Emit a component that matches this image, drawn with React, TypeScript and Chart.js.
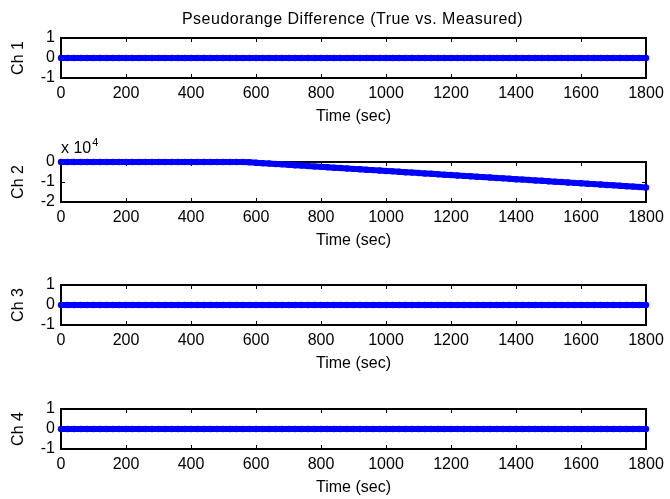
import React, { useEffect, useRef } from 'react';
import { Chart, registerables } from 'chart.js';

Chart.register(...registerables);

// ---------- data ----------
const TIME = [
  0, 20, 40, 60, 80, 100, 120, 140, 160, 180,
  200, 220, 240, 260, 280, 300, 320, 340, 360, 380,
  400, 420, 440, 460, 480, 500, 520, 540, 560, 580,
  600, 620, 640, 660, 680, 700, 720, 740, 760, 780,
  800, 820, 840, 860, 880, 900, 920, 940, 960, 980,
  1000, 1020, 1040, 1060, 1080, 1100, 1120, 1140, 1160, 1180,
  1200, 1220, 1240, 1260, 1280, 1300, 1320, 1340, 1360, 1380,
  1400, 1420, 1440, 1460, 1480, 1500, 1520, 1540, 1560, 1580,
  1600, 1620, 1640, 1660, 1680, 1700, 1720, 1740, 1760, 1780,
  1800,
];

const CH1 = [
  0, 0, 0, 0, 0, 0, 0, 0, 0, 0,
  0, 0, 0, 0, 0, 0, 0, 0, 0, 0,
  0, 0, 0, 0, 0, 0, 0, 0, 0, 0,
  0, 0, 0, 0, 0, 0, 0, 0, 0, 0,
  0, 0, 0, 0, 0, 0, 0, 0, 0, 0,
  0, 0, 0, 0, 0, 0, 0, 0, 0, 0,
  0, 0, 0, 0, 0, 0, 0, 0, 0, 0,
  0, 0, 0, 0, 0, 0, 0, 0, 0, 0,
  0, 0, 0, 0, 0, 0, 0, 0, 0, 0,
  0,
];

const CH2 = [
  0, 0, 0, 0, 0, 0, 0, 0, 0, 0,
  0, 0, 0, 0, 0, 0, 0, 0, 0, 0,
  0, 0, 0, 0, 0, 0, 0, 0, 0, -150,
  -360, -570, -770, -980, -1180, -1390, -1590, -1800, -2000, -2210,
  -2420, -2620, -2830, -3030, -3240, -3440, -3650, -3860, -4060, -4270,
  -4470, -4680, -4880, -5090, -5300, -5500, -5710, -5910, -6120, -6320,
  -6530, -6740, -6940, -7150, -7350, -7560, -7760, -7970, -8180, -8380,
  -8590, -8790, -9000, -9200, -9410, -9620, -9820, -10030, -10230, -10440,
  -10640, -10850, -11060, -11260, -11470, -11670, -11880, -12080, -12290, -12500,
  -12700,
];

const CH3 = [
  0, 0, 0, 0, 0, 0, 0, 0, 0, 0,
  0, 0, 0, 0, 0, 0, 0, 0, 0, 0,
  0, 0, 0, 0, 0, 0, 0, 0, 0, 0,
  0, 0, 0, 0, 0, 0, 0, 0, 0, 0,
  0, 0, 0, 0, 0, 0, 0, 0, 0, 0,
  0, 0, 0, 0, 0, 0, 0, 0, 0, 0,
  0, 0, 0, 0, 0, 0, 0, 0, 0, 0,
  0, 0, 0, 0, 0, 0, 0, 0, 0, 0,
  0, 0, 0, 0, 0, 0, 0, 0, 0, 0,
  0,
];

const CH4 = [
  0, 0, 0, 0, 0, 0, 0, 0, 0, 0,
  0, 0, 0, 0, 0, 0, 0, 0, 0, 0,
  0, 0, 0, 0, 0, 0, 0, 0, 0, 0,
  0, 0, 0, 0, 0, 0, 0, 0, 0, 0,
  0, 0, 0, 0, 0, 0, 0, 0, 0, 0,
  0, 0, 0, 0, 0, 0, 0, 0, 0, 0,
  0, 0, 0, 0, 0, 0, 0, 0, 0, 0,
  0, 0, 0, 0, 0, 0, 0, 0, 0, 0,
  0, 0, 0, 0, 0, 0, 0, 0, 0, 0,
  0,
];

const X_TICKS = [0, 200, 400, 600, 800, 1000, 1200, 1400, 1600, 1800];
const Y_TICKS_UNIT = [-1, 0, 1];
const Y_TICKS_CH2 = [-20000, -10000, 0];
const CHANNEL_LABELS = ['Ch 1', 'Ch 2', 'Ch 3', 'Ch 4'];
const TITLE = 'Pseudorange Difference (True vs. Measured)';
const X_LABEL = 'Time (sec)';
const CH2_EXPONENT = '4';

// ---------- styling ----------
const FONT = '"Liberation Sans", Arial, Helvetica, sans-serif';
const BLUE = '#0000ff';
const CANVAS_W = 670;
const CANVAS_H = 126;
const PLOT_TOPS = [0, 124, 247, 371];

type SubplotSpec = {
  label: string;
  values: number[];
  yTicks: number[];
  yScale: number; // divisor for tick labels
  title?: string;
  exponent?: string;
};

const SPECS: SubplotSpec[] = [
  { label: CHANNEL_LABELS[0], values: CH1, yTicks: Y_TICKS_UNIT, yScale: 1, title: TITLE },
  { label: CHANNEL_LABELS[1], values: CH2, yTicks: Y_TICKS_CH2, yScale: 10000, exponent: CH2_EXPONENT },
  { label: CHANNEL_LABELS[2], values: CH3, yTicks: Y_TICKS_UNIT, yScale: 1 },
  { label: CHANNEL_LABELS[3], values: CH4, yTicks: Y_TICKS_UNIT, yScale: 1 },
];

function makeFramePlugin(spec: SubplotSpec) {
  return {
    id: 'matlabFrame',
    beforeDatasetsDraw(chart: any) {
      const { ctx, chartArea } = chart;
      const { left, right, top, bottom } = chartArea;
      const xs = chart.scales.x;
      const ys = chart.scales.y;
      ctx.save();
      // inner ticks
      ctx.strokeStyle = '#000';
      ctx.lineWidth = 1;
      ctx.beginPath();
      const tl = 4;
      xs.ticks.forEach((t: any) => {
        const px = Math.round(xs.getPixelForValue(t.value)) + 0.5;
        ctx.moveTo(px, bottom);
        ctx.lineTo(px, bottom - tl);
        ctx.moveTo(px, top);
        ctx.lineTo(px, top + tl);
      });
      ys.ticks.forEach((t: any) => {
        const py = Math.round(ys.getPixelForValue(t.value)) + 0.5;
        ctx.moveTo(left, py);
        ctx.lineTo(left + tl, py);
        ctx.moveTo(right, py);
        ctx.lineTo(right - tl, py);
      });
      ctx.stroke();
      // box
      ctx.lineWidth = 2;
      ctx.strokeRect(left, top, right - left, bottom - top);
      ctx.restore();
    },
    afterDraw(chart: any) {
      const { ctx, chartArea } = chart;
      ctx.save();
      ctx.fillStyle = '#000';
      if (spec.title) {
        ctx.font = `16px ${FONT}`;
        ctx.textAlign = 'center';
        ctx.textBaseline = 'alphabetic';
        try { (ctx as any).letterSpacing = '0.5px'; } catch (e) {}
        ctx.fillText(spec.title, (chartArea.left + chartArea.right) / 2 - 1, 24);
        try { (ctx as any).letterSpacing = '0px'; } catch (e) {}
      }
      if (spec.exponent) {
        ctx.font = `16px ${FONT}`;
        ctx.textAlign = 'left';
        ctx.textBaseline = 'alphabetic';
        const base = 'x 10';
        const x0 = chartArea.left;
        const yb = chartArea.top - 9;
        ctx.fillText(base, x0, yb);
        const w = ctx.measureText(base).width;
        ctx.font = `11px ${FONT}`;
        ctx.fillText(spec.exponent, x0 + w + 1, yb - 7);
      }
      ctx.restore();
    },
  };
}

function Subplot({ spec, top }: { spec: SubplotSpec; top: number }) {
  const ref = useRef<HTMLCanvasElement | null>(null);
  useEffect(() => {
    if (!ref.current) return;
    const yt = spec.yTicks;
    const chart = new Chart(ref.current, {
      type: 'line',
      data: {
        datasets: [
          {
            data: TIME.map((t, i) => ({ x: t, y: spec.values[i] })),
            borderColor: BLUE,
            backgroundColor: BLUE,
            borderWidth: 6,
            pointRadius: 3.2,
            pointBorderWidth: 0,
            pointBackgroundColor: BLUE,
            pointHoverRadius: 3.2,
            fill: false,
            tension: 0,
            clip: false as any,
          },
        ],
      },
      options: {
        responsive: false,
        animation: false,
        devicePixelRatio: 1,
        events: [],
        layout: { padding: { top: 38, left: 0, right: 24, bottom: 0 } },
        plugins: {
          legend: { display: false },
          tooltip: { enabled: false },
          title: { display: false },
        },
        scales: {
          x: {
            type: 'linear',
            min: X_TICKS[0],
            max: X_TICKS[X_TICKS.length - 1],
            afterBuildTicks: (s: any) => {
              s.ticks = X_TICKS.map((v) => ({ value: v }));
            },
            afterFit: (s: any) => {
              s.height = 48;
            },
            grid: { display: false, drawTicks: false },
            border: { display: false },
            ticks: {
              autoSkip: false,
              maxRotation: 0,
              padding: 6,
              color: '#000',
              font: { family: FONT, size: 16 },
              callback: (v: any) => String(v),
            },
            title: {
              display: true,
              text: X_LABEL,
              color: '#000',
              font: { family: FONT, size: 16 },
              padding: { top: 0, bottom: 0 },
            },
          },
          y: {
            type: 'linear',
            min: yt[0],
            max: yt[yt.length - 1],
            afterBuildTicks: (s: any) => {
              s.ticks = yt.map((v) => ({ value: v }));
            },
            afterFit: (s: any) => {
              s.width = 61;
            },
            grid: { display: false, drawTicks: false },
            border: { display: false },
            ticks: {
              autoSkip: false,
              padding: 6,
              color: '#000',
              font: { family: FONT, size: 16 },
              callback: (v: any) => String(Math.round(Number(v) / spec.yScale)),
            },
            title: {
              display: true,
              text: spec.label,
              color: '#000',
              font: { family: FONT, size: 16 },
              padding: { top: 9, bottom: 0 },
            },
          },
        },
      } as any,
      plugins: [makeFramePlugin(spec)],
    });
    return () => chart.destroy();
  }, [spec]);
  return (
    <div style={{ position: 'absolute', left: 0, top, width: CANVAS_W, height: CANVAS_H }}>
      <canvas ref={ref} width={CANVAS_W} height={CANVAS_H} style={{ display: 'block' }} />
    </div>
  );
}

export default function App() {
  return (
    <div
      style={{
        position: 'absolute',
        left: 0,
        top: 0,
        width: CANVAS_W,
        height: 499,
        background: '#fff',
        overflow: 'hidden',
      }}
    >
      {SPECS.map((s, i) => (
        <Subplot key={i} spec={s} top={PLOT_TOPS[i]} />
      ))}
    </div>
  );
}
